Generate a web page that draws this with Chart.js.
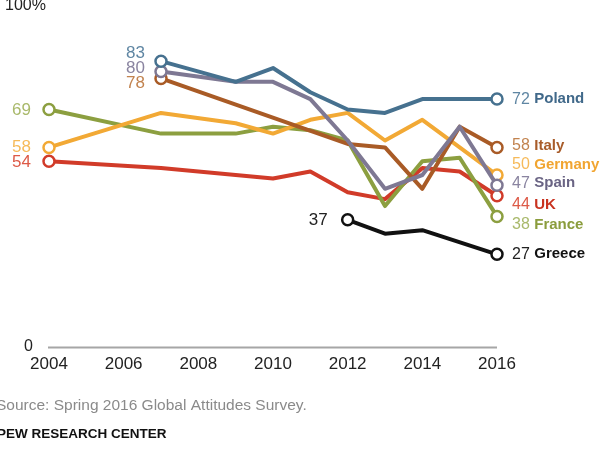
<!DOCTYPE html>
<html>
<head>
<meta charset="utf-8">
<script src="https://cdn.jsdelivr.net/npm/chart.js@4.4.1/dist/chart.umd.min.js"></script>
<style>
  html, body { margin: 0; padding: 0; background: #fff; }
  #wrap { width: 614px; height: 460px; }
</style>
</head>
<body>
<div id="wrap"><canvas id="myChart" width="614" height="460"></canvas></div>
<script>
const years   = ['2004','2005','2006','2007','2008','2009','2010','2011','2012','2013','2014','2015','2016'];
const poland  = [null, null, null, 83, null, 77, 81, 74, 69, 68, 72, 72, 72];
const spain   = [null, null, null, 80, null, 77, 77, 72, 60, 46, 50, 64, 47];
const italy   = [null, null, null, 78, null, null, null, null, 59, 58, 46, 64, 58];
const germany = [58, null, null, 68, null, 65, 62, 66, 68, 60, 66, 58, 50];
const france  = [69, null, null, 62, null, 62, 64, 63, 60, 41, 54, 55, 38];
const uk      = [54, null, null, 52, null, 50, 49, 51, 45, 43, 52, 51, 44];
const greece  = [null, null, null, null, null, null, null, null, 37, 33, 34, null, 27];
const yTicks  = [0, 100];
const xTicks  = ['2004','2006','2008','2010','2012','2014','2016'];

// styling for each series: line colour, label colours, label nudges (px)
const series = [
  { name: 'Poland',  data: poland,  color: '#46718f', num: '#5f86a3', txt: '#41698a', dyR: 0,  first: { dx: -16, dy: -8 } },
  { name: 'Spain',   data: spain,   color: '#7e7893', num: '#8a84a0', txt: '#6a6484', dyR: -2, first: { dx: -16, dy: -3 } },
  { name: 'Italy',   data: italy,   color: '#a95b26', num: '#c2834f', txt: '#a85c2a', dyR: -2, first: { dx: -16, dy: 5 } },
  { name: 'Germany', data: germany, color: '#f2a935', num: '#f6ba5a', txt: '#f1a531', dyR: -10, first: { dx: -18, dy: 0 } },
  { name: 'France',  data: france,  color: '#8c9f40', num: '#a9b96b', txt: '#8b9d3d', dyR: 8,  first: { dx: -18, dy: 1 } },
  { name: 'UK',      data: uk,      color: '#d13b29', num: '#dd5a47', txt: '#c93320', dyR: 9,  first: { dx: -18, dy: 1 } },
  { name: 'Greece',  data: greece,  color: '#111111', num: '#222222', txt: '#111111', dyR: 0,  first: { dx: -20, dy: 0 } }
];

function firstIdx(arr) { return arr.findIndex(v => v !== null); }
function lastIdx(arr) { for (let i = arr.length - 1; i >= 0; i--) if (arr[i] !== null) return i; return -1; }

const labelPlugin = {
  id: 'labels',
  beforeDatasetsDraw(chart) {
    const ctx = chart.ctx;
    const x = chart.scales.x, y = chart.scales.y;
    ctx.save();
    // zero baseline
    ctx.strokeStyle = '#a6a6a6';
    ctx.lineWidth = 2;
    ctx.beginPath();
    ctx.moveTo(x.getPixelForValue(0) - 1, y.getPixelForValue(0));
    ctx.lineTo(x.getPixelForValue(years.length - 1), y.getPixelForValue(0));
    ctx.stroke();
    ctx.restore();
  },
  afterDatasetsDraw(chart) {
    const ctx = chart.ctx;
    const x = chart.scales.x, y = chart.scales.y;
    ctx.save();
    ctx.textBaseline = 'middle';

    // x ticks
    ctx.fillStyle = '#222';
    ctx.font = '17px "Liberation Sans", Arial, sans-serif';
    ctx.textAlign = 'center';
    xTicks.forEach(t => {
      ctx.fillText(t, x.getPixelForValue(years.indexOf(t)), y.getPixelForValue(0) + 17);
    });
    // y ticks
    ctx.textAlign = 'right';
    ctx.font = '16px "Liberation Sans", Arial, sans-serif';
    ctx.fillText(String(yTicks[0]), 33, y.getPixelForValue(yTicks[0]) - 1);
    ctx.textAlign = 'left';
    ctx.fillText(yTicks[1] + '%', 5, 5.5);

    series.forEach(s => {
      const fi = firstIdx(s.data), li = lastIdx(s.data);
      // first value
      ctx.textAlign = 'right';
      ctx.font = '17px "Liberation Sans", Arial, sans-serif';
      ctx.fillStyle = s.num;
      ctx.fillText(String(s.data[fi]), x.getPixelForValue(fi) + s.first.dx, y.getPixelForValue(s.data[fi]) + s.first.dy);
      // last value + name
      const lx = x.getPixelForValue(li) + 15;
      const ly = y.getPixelForValue(s.data[li]) + s.dyR;
      ctx.textAlign = 'left';
      ctx.font = '16px "Liberation Sans", Arial, sans-serif';
      ctx.fillStyle = s.num;
      const numTxt = String(s.data[li]) + ' ';
      ctx.fillText(numTxt, lx, ly);
      const w = ctx.measureText(numTxt).width;
      ctx.font = 'bold 15px "Liberation Sans", Arial, sans-serif';
      ctx.fillStyle = s.txt;
      ctx.fillText(s.name, lx + w, ly);
    });

    // footer
    ctx.textAlign = 'left';
    ctx.fillStyle = '#8a8a8a';
    ctx.font = '15.5px "Liberation Sans Narrow", "Liberation Sans", Arial, sans-serif';
    ctx.fillText('Source: Spring 2016 Global Attitudes Survey.', -4, 406);
    ctx.fillStyle = '#111';
    ctx.font = 'bold 13.5px "Liberation Sans Narrow", "Liberation Sans", Arial, sans-serif';
    ctx.fillText('PEW RESEARCH CENTER', -3, 434);
    ctx.restore();
  }
};

const ctx = document.getElementById('myChart');
new Chart(ctx, {
  type: 'line',
  data: {
    labels: years,
    datasets: series.map(s => ({
      label: s.name,
      data: s.data,
      borderColor: s.color,
      backgroundColor: '#fff',
      borderWidth: 4,
      spanGaps: true,
      tension: 0,
      clip: false,
      borderJoinStyle: 'round',
      pointRadius: c => (c.dataIndex === firstIdx(s.data) || c.dataIndex === lastIdx(s.data)) ? 5.5 : 0,
      pointBorderWidth: 2.5,
      pointBackgroundColor: '#fff',
      pointBorderColor: s.color,
      pointHoverRadius: 0
    }))
  },
  options: {
    responsive: false,
    animation: false,
    events: [],
    layout: { autoPadding: false, padding: { left: 49, right: 117, top: 2.5, bottom: 112.5 } },
    scales: {
      x: { display: false, offset: false },
      y: { display: false, min: 0, max: 100 }
    },
    plugins: {
      legend: { display: false },
      tooltip: { enabled: false }
    }
  },
  plugins: [labelPlugin]
});
</script>
</body>
</html>
